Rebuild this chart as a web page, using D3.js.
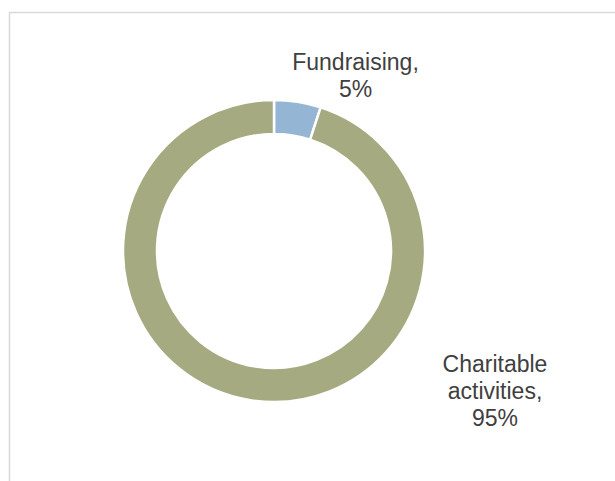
<!DOCTYPE html>
<html lang="en">
<head>
<meta charset="UTF-8">
<title>Expenditure split</title>
<script src="https://d3js.org/d3.v7.min.js"></script>
<style>
  body { margin: 0; background: #fff; }
  svg { display: block; }
  .lbl { font-family: "Liberation Sans", Arial, sans-serif; font-size: 23px; fill: #404040; }
</style>
</head>
<body>
<div id="chart"></div>
<script>
// data
const categories = ["Fundraising", "Charitable activities"];
const values = [5, 95];
const colors = ["#94b5d3", "#a5aa80"];
// label text lines (as shown in the chart)
const labelLines = [["Fundraising,", "5%"], ["Charitable", "activities,", "95%"]];

const W = 615, H = 481;
const cx = 274, cy = 251, outerR = 151, innerR = 117;

const svg = d3.select("#chart").append("svg")
    .attr("width", W)
    .attr("height", H);

// chart area frame (runs off the right and bottom)
svg.append("rect")
    .attr("x", 9.5).attr("y", 12.5)
    .attr("width", W + 20).attr("height", H + 20)
    .attr("fill", "none")
    .attr("stroke", "#d9d9d9")
    .attr("stroke-width", 1.5);

const pie = d3.pie().sort(null).value(d => d);
const arc = d3.arc().innerRadius(innerR).outerRadius(outerR);

const g = svg.append("g").attr("transform", `translate(${cx},${cy})`);

const arcs = pie(values);
g.selectAll("path")
    .data(arcs)
    .enter()
    .append("path")
    .attr("d", arc)
    .attr("fill", (d, i) => colors[i])
    .attr("stroke", "#fff")
    .attr("stroke-width", 2.5);

// labels placed outside the ring, lines centred
const labelPos = [[355.5, 70], [495, 372]];
const lineH = 26.8;
labelLines.forEach((lines, i) => {
    const t = svg.append("text")
        .attr("class", "lbl")
        .attr("text-anchor", "middle");
    lines.forEach((s, j) => {
        t.append("tspan")
            .attr("x", labelPos[i][0])
            .attr("y", labelPos[i][1] + j * lineH)
            .text(s);
    });
});
</script>
</body>
</html>
